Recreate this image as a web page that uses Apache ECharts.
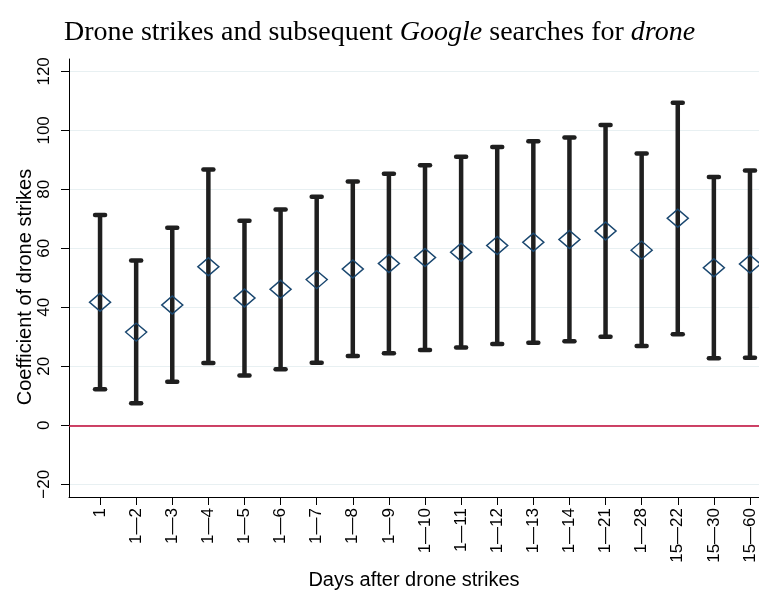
<!DOCTYPE html>
<html>
<head>
<meta charset="utf-8">
<script src="https://cdn.jsdelivr.net/npm/echarts@6/dist/echarts.min.js"></script>
<style>
  html, body { margin: 0; padding: 0; background: #fff; }
  #chart { width: 759px; height: 592px; }
</style>
</head>
<body>
<div id="chart"></div>
<script>
  'use strict'

  // windows (days after strike)
  var categories = ['1', '1\u20142', '1\u20143', '1\u20144', '1\u20145', '1\u20146', '1\u20147', '1\u20148', '1\u20149',
    '1\u201410', '1\u201411', '1\u201412', '1\u201413', '1\u201414', '1\u201421', '1\u201428',
    '15\u201422', '15\u201430', '15\u201460'];
  var coef  = [41.7, 31.6, 40.8, 53.8, 43.2, 46.1, 49.4, 53.0, 54.9, 56.9, 58.7, 61.0, 62.1, 63.0, 65.9, 59.4, 70.2, 53.4, 54.7];
  var lower = [12.2, 7.5, 14.8, 21.1, 16.9, 19.0, 21.2, 23.5, 24.4, 25.5, 26.4, 27.6, 28.0, 28.5, 30.0, 26.9, 30.9, 22.7, 22.9];
  var upper = [71.3, 55.9, 67.0, 86.7, 69.4, 73.2, 77.5, 82.7, 85.3, 88.2, 91.1, 94.4, 96.3, 97.6, 101.8, 92.2, 109.4, 84.2, 86.4];
  var yTicks = [-20, 0, 20, 40, 60, 80, 100, 120];

  var xIdx = categories.map(function (c, i) { return i; });
  var ciData = categories.map(function (c, i) { return [i, lower[i], upper[i]]; });
  var ptData = categories.map(function (c, i) { return [i, coef[i]]; });

  var font = '"Liberation Sans", Arial, Helvetica, sans-serif';
  var serif = '"Liberation Serif", "Times New Roman", serif';

  var chart = echarts.init(document.getElementById('chart'));

  var option = {
    animation: false,
    backgroundColor: '#fff',
    title: {
      left: 'center',
      top: 14,
      text: '{n|Drone strikes and subsequent }{i|Google}{n| searches for }{i|drone}',
      textStyle: {
        fontWeight: 'normal',
        rich: {
          n: { fontFamily: serif, fontSize: 28, fontWeight: 'normal', color: '#000' },
          i: { fontFamily: serif, fontSize: 28, fontWeight: 'normal', fontStyle: 'italic', color: '#000' }
        }
      }
    },
    grid: { left: 69, right: 0, top: 59, bottom: 95, outerBoundsMode: 'none', containLabel: false },
    xAxis: {
      type: 'value',
      min: -0.86,
      max: 18.25,
      name: 'Days after drone strikes',
      nameLocation: 'middle',
      nameGap: 73,
      nameMoveOverlap: false,
      nameTextStyle: { fontFamily: font, fontSize: 20, color: '#000' },
      axisLine: { onZero: false, lineStyle: { color: '#000', width: 1 } },
      axisTick: { customValues: xIdx, length: 8, lineStyle: { color: '#000' } },
      axisLabel: {
        customValues: xIdx,
        rotate: 90,
        margin: 11,
        fontFamily: font,
        fontSize: 17,
        color: '#000',
        formatter: function (v) { return categories[Math.round(v)]; }
      },
      splitLine: { show: false }
    },
    yAxis: {
      type: 'value',
      min: -24.3,
      max: 124.2,
      name: 'Coefficient of drone strikes',
      nameLocation: 'middle',
      nameGap: 34,
      nameRotate: 90,
      nameMoveOverlap: false,
      nameTextStyle: { fontFamily: font, fontSize: 20, color: '#000', padding: [0, 18, 0, 0] },
      axisLine: { show: true, onZero: false, lineStyle: { color: '#000', width: 1 } },
      axisTick: { show: true, customValues: yTicks, length: 8, lineStyle: { color: '#000' } },
      axisLabel: {
        customValues: yTicks,
        rotate: 90,
        margin: 16,
        fontFamily: font,
        fontSize: 17,
        color: '#000',
        formatter: function (v) { return v < 0 ? '\u2212' + Math.abs(v) : String(v); }
      },
      splitLine: { show: true, lineStyle: { color: '#e8f0f2', width: 1 } }
    },
    series: [
      {
        type: 'custom',
        data: ciData,
        z: 2,
        renderItem: function (params, api) {
          var lo = api.coord([api.value(0), api.value(1)]);
          var hi = api.coord([api.value(0), api.value(2)]);
          var st = { stroke: '#1f1f1f', lineWidth: 4.5, lineCap: 'round' };
          return {
            type: 'group',
            children: [
              { type: 'line', shape: { x1: lo[0], y1: lo[1], x2: hi[0], y2: hi[1] }, style: { stroke: '#1f1f1f', lineWidth: 4.5 } },
              { type: 'line', shape: { x1: lo[0] - 5, y1: lo[1], x2: lo[0] + 5, y2: lo[1] }, style: st },
              { type: 'line', shape: { x1: hi[0] - 5, y1: hi[1], x2: hi[0] + 5, y2: hi[1] }, style: st }
            ]
          };
        }
      },
      {
        type: 'scatter',
        data: ptData,
        z: 3,
        symbol: 'diamond',
        symbolSize: [21, 18],
        itemStyle: { color: 'rgba(0,0,0,0)', borderColor: '#1a476f', borderWidth: 1.5, opacity: 1 },
        markLine: {
          silent: true,
          symbol: 'none',
          label: { show: false },
          lineStyle: { color: '#c10534', width: 1.5, type: 'solid' },
          data: [{ yAxis: 0 }]
        }
      }
    ]
  };

  chart.setOption(option);
</script>
</body>
</html>
